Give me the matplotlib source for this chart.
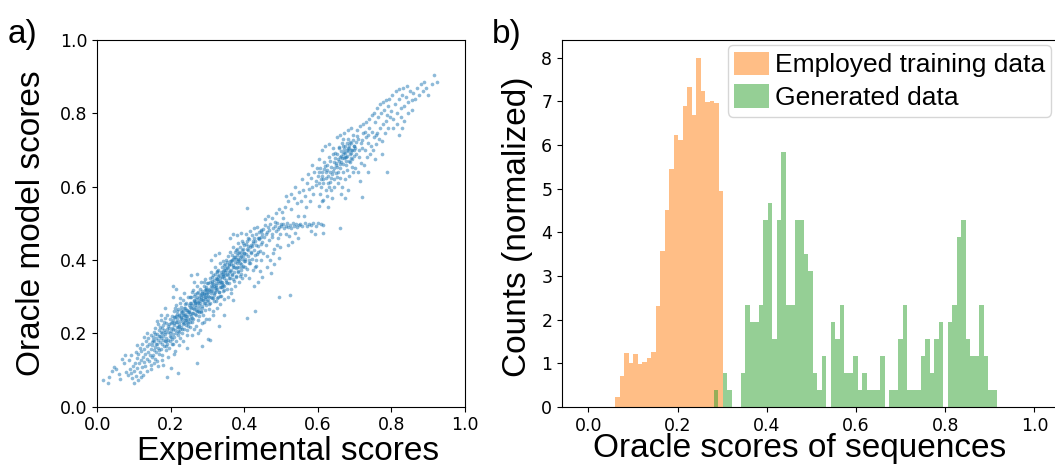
#!/usr/bin/env python3
"""Oracle model check (a) and score histograms of training vs generated sequences (b)."""

import matplotlib

matplotlib.use("Agg")
import matplotlib.pyplot as plt
import numpy as np

# a) experimental score vs oracle model score
scatter_points = [
    (0.015, 0.072), (0.028, 0.065), (0.033, 0.080), (0.041, 0.096), (0.045, 0.108), (0.052, 0.103),
    (0.058, 0.088), (0.063, 0.075), (0.067, 0.130), (0.072, 0.118), (0.075, 0.142), (0.079, 0.095),
    (0.083, 0.086), (0.086, 0.128), (0.088, 0.102), (0.091, 0.092), (0.093, 0.140), (0.095, 0.078),
    (0.098, 0.112), (0.099, 0.065),
    (0.101, 0.098), (0.103, 0.120), (0.104, 0.150), (0.106, 0.085), (0.108, 0.132), (0.109, 0.105),
    (0.111, 0.072), (0.112, 0.143), (0.113, 0.118), (0.115, 0.160), (0.116, 0.094), (0.118, 0.128),
    (0.119, 0.152), (0.121, 0.108), (0.122, 0.170), (0.124, 0.136), (0.125, 0.086), (0.127, 0.122),
    (0.128, 0.158), (0.129, 0.145), (0.131, 0.112), (0.132, 0.178), (0.134, 0.131), (0.135, 0.165),
    (0.136, 0.098), (0.138, 0.150), (0.139, 0.188), (0.141, 0.124), (0.142, 0.170), (0.143, 0.142),
    (0.145, 0.158), (0.146, 0.196), (0.147, 0.115), (0.148, 0.176), (0.149, 0.135), (0.128, 0.190),
    (0.118, 0.082), (0.134, 0.201), (0.108, 0.168), (0.145, 0.104),
    (0.150, 0.168), (0.151, 0.142), (0.152, 0.190), (0.153, 0.155), (0.154, 0.205), (0.155, 0.178),
    (0.156, 0.130), (0.157, 0.162), (0.158, 0.214), (0.159, 0.186), (0.160, 0.150), (0.161, 0.172),
    (0.162, 0.198), (0.163, 0.125), (0.164, 0.182), (0.165, 0.226), (0.166, 0.160), (0.167, 0.192),
    (0.168, 0.145), (0.169, 0.208), (0.170, 0.176), (0.171, 0.218), (0.172, 0.158), (0.173, 0.188),
    (0.174, 0.236), (0.175, 0.170), (0.176, 0.200), (0.177, 0.140), (0.178, 0.182), (0.179, 0.222),
    (0.180, 0.194), (0.181, 0.166), (0.182, 0.210), (0.183, 0.242), (0.184, 0.178), (0.185, 0.198),
    (0.186, 0.154), (0.187, 0.228), (0.188, 0.188), (0.189, 0.212), (0.190, 0.172), (0.191, 0.250),
    (0.192, 0.204), (0.193, 0.182), (0.194, 0.226), (0.195, 0.160), (0.196, 0.214), (0.197, 0.192),
    (0.198, 0.238), (0.199, 0.178), (0.155, 0.118), (0.165, 0.112), (0.176, 0.128), (0.185, 0.268),
    (0.193, 0.135), (0.172, 0.250), (0.162, 0.235), (0.180, 0.115), (0.189, 0.082), (0.207, 0.330),
    (0.200, 0.206), (0.201, 0.228), (0.202, 0.184), (0.203, 0.246), (0.204, 0.214), (0.205, 0.170),
    (0.206, 0.236), (0.207, 0.198), (0.208, 0.262), (0.209, 0.222), (0.210, 0.190), (0.211, 0.244),
    (0.212, 0.208), (0.213, 0.276), (0.214, 0.230), (0.215, 0.178), (0.216, 0.252), (0.217, 0.216),
    (0.218, 0.238), (0.219, 0.196), (0.220, 0.266), (0.221, 0.226), (0.222, 0.248), (0.223, 0.204),
    (0.224, 0.284), (0.225, 0.234), (0.226, 0.186), (0.227, 0.256), (0.228, 0.218), (0.229, 0.272),
    (0.230, 0.240), (0.231, 0.200), (0.232, 0.262), (0.233, 0.230), (0.234, 0.292), (0.235, 0.250),
    (0.236, 0.212), (0.237, 0.270), (0.238, 0.236), (0.239, 0.254), (0.240, 0.222), (0.241, 0.282),
    (0.242, 0.246), (0.243, 0.196), (0.244, 0.264), (0.245, 0.232), (0.246, 0.300), (0.247, 0.258),
    (0.248, 0.220), (0.249, 0.276), (0.205, 0.300), (0.215, 0.320), (0.222, 0.168), (0.232, 0.180),
    (0.212, 0.152), (0.244, 0.208), (0.237, 0.310), (0.226, 0.296), (0.218, 0.262), (0.209, 0.245),
    (0.241, 0.236), (0.228, 0.244), (0.234, 0.226), (0.204, 0.232), (0.247, 0.240), (0.219, 0.218),
    (0.213, 0.200), (0.231, 0.258), (0.224, 0.212), (0.239, 0.268), (0.200, 0.105), (0.220, 0.091),
    (0.210, 0.145), (0.245, 0.160),
    (0.250, 0.262), (0.251, 0.238), (0.252, 0.284), (0.253, 0.216), (0.254, 0.270), (0.255, 0.248),
    (0.256, 0.300), (0.257, 0.230), (0.258, 0.276), (0.259, 0.256), (0.260, 0.318), (0.261, 0.240),
    (0.262, 0.290), (0.263, 0.266), (0.264, 0.212), (0.265, 0.282), (0.266, 0.306), (0.267, 0.252),
    (0.268, 0.294), (0.269, 0.272), (0.270, 0.330), (0.271, 0.260), (0.272, 0.300), (0.273, 0.236),
    (0.274, 0.286), (0.275, 0.314), (0.276, 0.270), (0.277, 0.296), (0.278, 0.248), (0.279, 0.322),
    (0.280, 0.284), (0.281, 0.306), (0.282, 0.262), (0.283, 0.340), (0.284, 0.292), (0.285, 0.274),
    (0.286, 0.316), (0.287, 0.250), (0.288, 0.302), (0.289, 0.330), (0.290, 0.282), (0.291, 0.310),
    (0.292, 0.264), (0.293, 0.348), (0.294, 0.298), (0.295, 0.320), (0.296, 0.276), (0.297, 0.306),
    (0.298, 0.338), (0.299, 0.288), (0.258, 0.196), (0.268, 0.220), (0.275, 0.200), (0.285, 0.228),
    (0.262, 0.340), (0.255, 0.360), (0.270, 0.362), (0.295, 0.240), (0.290, 0.230), (0.280, 0.210),
    (0.252, 0.300), (0.266, 0.286), (0.274, 0.262), (0.283, 0.298), (0.292, 0.318), (0.261, 0.268),
    (0.278, 0.288), (0.287, 0.290), (0.296, 0.300), (0.253, 0.254), (0.270, 0.118), (0.285, 0.165),
    (0.300, 0.185), (0.306, 0.183),
    (0.300, 0.312), (0.301, 0.290), (0.302, 0.336), (0.303, 0.266), (0.304, 0.322), (0.305, 0.300),
    (0.306, 0.352), (0.307, 0.282), (0.308, 0.328), (0.309, 0.310), (0.310, 0.368), (0.311, 0.296),
    (0.312, 0.342), (0.313, 0.318), (0.314, 0.262), (0.315, 0.334), (0.316, 0.358), (0.317, 0.304),
    (0.318, 0.346), (0.319, 0.324), (0.320, 0.380), (0.321, 0.312), (0.322, 0.352), (0.323, 0.288),
    (0.324, 0.338), (0.325, 0.366), (0.326, 0.322), (0.327, 0.348), (0.328, 0.300), (0.329, 0.374),
    (0.330, 0.336), (0.331, 0.358), (0.332, 0.314), (0.333, 0.392), (0.334, 0.344), (0.335, 0.326),
    (0.336, 0.368), (0.337, 0.302), (0.338, 0.354), (0.339, 0.382), (0.340, 0.334), (0.341, 0.362),
    (0.342, 0.316), (0.343, 0.398), (0.344, 0.350), (0.345, 0.372), (0.346, 0.328), (0.347, 0.358),
    (0.348, 0.390), (0.349, 0.340), (0.305, 0.240), (0.315, 0.250), (0.325, 0.270), (0.335, 0.280),
    (0.345, 0.295), (0.310, 0.400), (0.320, 0.415), (0.330, 0.420), (0.318, 0.330), (0.328, 0.344),
    (0.338, 0.340), (0.308, 0.300), (0.342, 0.356), (0.322, 0.326), (0.333, 0.352), (0.313, 0.336),
    (0.347, 0.366), (0.303, 0.318), (0.326, 0.296), (0.337, 0.326), (0.330, 0.220), (0.345, 0.250),
    (0.350, 0.372), (0.351, 0.346), (0.352, 0.394), (0.353, 0.322), (0.354, 0.380), (0.355, 0.358),
    (0.356, 0.410), (0.357, 0.338), (0.358, 0.386), (0.359, 0.366), (0.360, 0.422), (0.361, 0.352),
    (0.362, 0.398), (0.363, 0.374), (0.364, 0.320), (0.365, 0.390), (0.366, 0.414), (0.367, 0.360),
    (0.368, 0.402), (0.369, 0.380), (0.370, 0.436), (0.371, 0.368), (0.372, 0.408), (0.373, 0.344),
    (0.374, 0.394), (0.375, 0.422), (0.376, 0.378), (0.377, 0.404), (0.378, 0.356), (0.379, 0.430),
    (0.380, 0.392), (0.381, 0.414), (0.382, 0.370), (0.383, 0.446), (0.384, 0.398), (0.385, 0.380),
    (0.386, 0.422), (0.387, 0.356), (0.388, 0.408), (0.389, 0.436), (0.390, 0.390), (0.391, 0.418),
    (0.392, 0.372), (0.393, 0.452), (0.394, 0.404), (0.395, 0.426), (0.396, 0.384), (0.397, 0.412),
    (0.398, 0.440), (0.399, 0.396), (0.355, 0.300), (0.365, 0.310), (0.375, 0.330), (0.385, 0.340),
    (0.395, 0.350), (0.360, 0.460), (0.370, 0.470), (0.380, 0.468), (0.390, 0.475), (0.370, 0.290),
    (0.400, 0.420), (0.402, 0.398), (0.404, 0.444), (0.406, 0.376), (0.408, 0.430), (0.410, 0.410),
    (0.412, 0.456), (0.414, 0.392), (0.416, 0.436), (0.418, 0.420), (0.420, 0.468), (0.422, 0.404),
    (0.424, 0.446), (0.426, 0.428), (0.428, 0.380), (0.430, 0.452), (0.432, 0.470), (0.434, 0.416),
    (0.436, 0.460), (0.438, 0.438), (0.440, 0.476), (0.442, 0.424), (0.444, 0.462), (0.446, 0.400),
    (0.448, 0.450), (0.403, 0.360), (0.413, 0.350), (0.423, 0.372), (0.433, 0.384), (0.443, 0.370),
    (0.405, 0.470), (0.415, 0.480), (0.425, 0.488), (0.435, 0.490), (0.445, 0.478), (0.409, 0.426),
    (0.419, 0.440), (0.429, 0.414), (0.439, 0.456), (0.449, 0.470), (0.438, 0.340), (0.425, 0.330),
    (0.447, 0.355), (0.406, 0.241), (0.430, 0.260), (0.408, 0.541),
    (0.450, 0.484), (0.453, 0.462), (0.456, 0.496), (0.459, 0.440), (0.462, 0.476), (0.465, 0.490),
    (0.468, 0.454), (0.471, 0.498), (0.474, 0.470), (0.477, 0.486), (0.480, 0.430), (0.483, 0.494),
    (0.486, 0.478), (0.489, 0.500), (0.492, 0.460), (0.495, 0.490), (0.498, 0.472), (0.452, 0.420),
    (0.461, 0.410), (0.470, 0.400), (0.479, 0.418), (0.488, 0.440), (0.497, 0.435), (0.455, 0.512),
    (0.465, 0.520), (0.475, 0.515), (0.485, 0.528), (0.495, 0.540), (0.458, 0.470), (0.467, 0.482),
    (0.476, 0.462), (0.484, 0.505), (0.491, 0.485), (0.499, 0.498), (0.462, 0.380), (0.481, 0.390),
    (0.495, 0.405), (0.472, 0.365), (0.494, 0.298), (0.524, 0.305),
    (0.500, 0.492), (0.504, 0.498), (0.508, 0.486), (0.512, 0.494), (0.516, 0.500), (0.520, 0.490),
    (0.524, 0.496), (0.528, 0.488), (0.532, 0.500), (0.536, 0.494), (0.540, 0.498), (0.544, 0.490),
    (0.548, 0.496), (0.502, 0.530), (0.510, 0.545), (0.518, 0.560), (0.526, 0.540), (0.534, 0.570),
    (0.542, 0.555), (0.550, 0.585), (0.506, 0.515), (0.514, 0.470), (0.522, 0.465), (0.530, 0.450),
    (0.538, 0.475), (0.546, 0.520), (0.528, 0.580), (0.538, 0.600), (0.512, 0.575), (0.520, 0.440),
    (0.545, 0.460),
    (0.552, 0.498), (0.558, 0.494), (0.564, 0.500), (0.570, 0.492), (0.576, 0.498), (0.582, 0.496),
    (0.588, 0.500), (0.594, 0.494), (0.600, 0.500), (0.608, 0.498), (0.615, 0.496), (0.555, 0.560),
    (0.560, 0.590), (0.565, 0.575), (0.570, 0.610), (0.575, 0.595), (0.580, 0.625), (0.585, 0.600),
    (0.590, 0.640), (0.595, 0.615), (0.558, 0.620), (0.568, 0.545), (0.578, 0.560), (0.588, 0.580),
    (0.598, 0.650), (0.572, 0.635), (0.585, 0.660), (0.562, 0.520), (0.592, 0.470), (0.580, 0.480),
    (0.596, 0.605),
    (0.600, 0.630), (0.603, 0.610), (0.606, 0.650), (0.609, 0.600), (0.612, 0.640), (0.615, 0.620),
    (0.618, 0.668), (0.621, 0.590), (0.624, 0.645), (0.627, 0.628), (0.630, 0.680), (0.633, 0.612),
    (0.636, 0.655), (0.639, 0.635), (0.642, 0.690), (0.645, 0.620), (0.648, 0.665), (0.602, 0.675),
    (0.610, 0.700), (0.620, 0.710), (0.630, 0.715), (0.640, 0.705), (0.605, 0.580), (0.615, 0.565),
    (0.625, 0.575), (0.635, 0.590), (0.645, 0.600), (0.608, 0.620), (0.617, 0.648), (0.626, 0.660),
    (0.634, 0.640), (0.643, 0.650), (0.649, 0.638), (0.611, 0.560), (0.628, 0.545), (0.638, 0.570),
    (0.604, 0.548), (0.622, 0.624), (0.631, 0.600), (0.646, 0.678), (0.614, 0.473), (0.660, 0.488),
    (0.650, 0.660), (0.652, 0.690), (0.654, 0.640), (0.656, 0.675), (0.658, 0.705), (0.660, 0.650),
    (0.662, 0.685), (0.664, 0.668), (0.666, 0.720), (0.668, 0.640), (0.670, 0.695), (0.672, 0.678),
    (0.674, 0.710), (0.676, 0.660), (0.678, 0.700), (0.680, 0.685), (0.682, 0.730), (0.684, 0.670),
    (0.686, 0.705), (0.688, 0.690), (0.690, 0.720), (0.692, 0.675), (0.694, 0.700), (0.696, 0.740),
    (0.698, 0.685), (0.655, 0.610), (0.665, 0.600), (0.675, 0.620), (0.685, 0.630), (0.695, 0.640),
    (0.651, 0.735), (0.661, 0.740), (0.671, 0.745), (0.681, 0.755), (0.691, 0.760), (0.657, 0.670),
    (0.667, 0.688), (0.677, 0.682), (0.687, 0.668), (0.697, 0.712), (0.663, 0.580), (0.683, 0.590),
    (0.673, 0.570), (0.693, 0.655), (0.659, 0.625), (0.679, 0.645), (0.689, 0.700), (0.669, 0.712),
    (0.700, 0.705), (0.704, 0.690), (0.708, 0.730), (0.712, 0.680), (0.716, 0.720), (0.720, 0.705),
    (0.724, 0.745), (0.728, 0.700), (0.732, 0.735), (0.736, 0.720), (0.740, 0.760), (0.744, 0.710),
    (0.748, 0.750), (0.752, 0.735), (0.756, 0.775), (0.760, 0.745), (0.764, 0.790), (0.768, 0.760),
    (0.772, 0.800), (0.776, 0.770), (0.780, 0.810), (0.784, 0.780), (0.788, 0.795), (0.792, 0.820),
    (0.796, 0.790), (0.702, 0.650), (0.710, 0.640), (0.718, 0.665), (0.726, 0.660), (0.734, 0.680),
    (0.742, 0.690), (0.750, 0.700), (0.758, 0.715), (0.766, 0.730), (0.774, 0.725), (0.782, 0.745),
    (0.790, 0.760), (0.706, 0.755), (0.714, 0.765), (0.722, 0.770), (0.730, 0.775), (0.738, 0.785),
    (0.746, 0.795), (0.754, 0.800), (0.762, 0.815), (0.770, 0.825), (0.778, 0.830), (0.786, 0.835),
    (0.794, 0.840), (0.715, 0.615), (0.735, 0.640), (0.755, 0.675), (0.775, 0.690), (0.757, 0.740),
    (0.719, 0.573), (0.787, 0.641),
    (0.800, 0.805), (0.805, 0.785), (0.810, 0.825), (0.815, 0.800), (0.820, 0.840), (0.825, 0.815),
    (0.830, 0.850), (0.835, 0.820), (0.840, 0.845), (0.845, 0.830), (0.850, 0.860), (0.855, 0.835),
    (0.860, 0.855), (0.865, 0.840), (0.870, 0.870), (0.875, 0.850), (0.880, 0.880), (0.885, 0.860),
    (0.890, 0.885), (0.895, 0.870), (0.900, 0.850), (0.910, 0.880), (0.915, 0.905), (0.925, 0.885),
    (0.805, 0.760), (0.815, 0.770), (0.825, 0.790), (0.835, 0.780), (0.845, 0.800), (0.855, 0.810),
    (0.802, 0.850), (0.812, 0.860), (0.822, 0.865), (0.832, 0.870), (0.842, 0.875), (0.820, 0.740),
    (0.830, 0.760),
]

# extra points read from the dense core of the cloud
scatter_core_points = [
    (0.163, 0.171), (0.197, 0.201), (0.151, 0.181), (0.188, 0.166), (0.176, 0.214), (0.209, 0.227),
    (0.184, 0.205), (0.171, 0.193), (0.223, 0.219), (0.214, 0.247), (0.236, 0.229), (0.201, 0.189),
    (0.242, 0.263), (0.227, 0.241), (0.219, 0.207), (0.253, 0.271), (0.233, 0.251), (0.247, 0.229),
    (0.261, 0.255), (0.238, 0.279), (0.272, 0.283), (0.257, 0.241), (0.266, 0.277), (0.281, 0.293),
    (0.249, 0.259), (0.276, 0.259), (0.289, 0.307), (0.263, 0.301), (0.294, 0.283), (0.271, 0.311),
    (0.302, 0.301), (0.286, 0.269), (0.311, 0.327), (0.297, 0.317), (0.279, 0.305), (0.317, 0.309),
    (0.306, 0.341), (0.323, 0.333), (0.293, 0.293), (0.328, 0.357), (0.314, 0.297), (0.336, 0.341),
    (0.321, 0.361), (0.342, 0.333), (0.331, 0.313), (0.347, 0.379), (0.338, 0.361), (0.353, 0.363),
    (0.326, 0.349), (0.359, 0.389), (0.344, 0.319), (0.362, 0.371), (0.351, 0.401), (0.368, 0.387),
    (0.357, 0.351), (0.374, 0.409), (0.363, 0.397), (0.381, 0.381), (0.369, 0.349), (0.386, 0.401),
    (0.377, 0.427), (0.392, 0.411), (0.383, 0.367), (0.397, 0.429), (0.388, 0.393), (0.404, 0.417),
    (0.394, 0.381), (0.411, 0.439), (0.401, 0.403), (0.417, 0.421), (0.407, 0.451), (0.421, 0.437),
    (0.413, 0.401), (0.427, 0.459), (0.433, 0.441), (0.441, 0.461), (0.437, 0.421), (0.446, 0.481),
    (0.431, 0.399), (0.444, 0.443), (0.157, 0.197), (0.168, 0.155), (0.181, 0.231), (0.192, 0.219),
    (0.203, 0.171), (0.217, 0.231), (0.228, 0.263), (0.211, 0.269), (0.231, 0.213), (0.244, 0.247),
    (0.252, 0.231), (0.264, 0.289), (0.277, 0.277), (0.258, 0.313), (0.283, 0.257), (0.291, 0.339),
    (0.269, 0.251), (0.303, 0.279), (0.312, 0.353), (0.296, 0.327), (0.318, 0.287), (0.327, 0.371),
    (0.334, 0.303), (0.346, 0.387), (0.339, 0.327), (0.354, 0.337), (0.366, 0.401), (0.371, 0.381),
    (0.376, 0.353), (0.384, 0.419), (0.391, 0.361), (0.396, 0.447), (0.402, 0.381), (0.409, 0.461),
    (0.416, 0.391), (0.423, 0.451), (0.186, 0.179), (0.174, 0.203), (0.207, 0.213), (0.221, 0.251),
    (0.239, 0.241), (0.256, 0.283), (0.268, 0.263), (0.284, 0.311), (0.299, 0.309), (0.309, 0.315),
    (0.324, 0.319), (0.341, 0.369), (0.356, 0.377), (0.367, 0.363), (0.382, 0.403), (0.398, 0.419),
    (0.603, 0.641), (0.611, 0.629), (0.619, 0.657), (0.627, 0.611), (0.633, 0.671), (0.641, 0.643),
    (0.647, 0.693), (0.653, 0.653), (0.659, 0.681), (0.663, 0.697), (0.667, 0.661), (0.671, 0.703),
    (0.675, 0.681), (0.679, 0.719), (0.683, 0.697), (0.687, 0.723), (0.691, 0.691), (0.695, 0.727),
    (0.699, 0.711), (0.703, 0.721), (0.657, 0.709), (0.665, 0.677), (0.673, 0.693), (0.681, 0.705),
    (0.689, 0.679), (0.697, 0.699), (0.661, 0.663), (0.669, 0.729), (0.677, 0.671), (0.685, 0.713),
    (0.613, 0.611), (0.623, 0.639), (0.637, 0.623), (0.644, 0.667), (0.651, 0.627), (0.707, 0.739),
    (0.713, 0.701), (0.721, 0.727), (0.729, 0.749), (0.737, 0.741),
]

# b) normalized histograms
train_label = "Employed training data"
train_range = (0.0598, 0.3022)
train_density = [
    0.24, 0.71, 1.25, 1.02, 1.22, 0.99, 1.04, 1.12, 1.27, 2.33, 3.60, 4.54,
    5.49, 6.28, 6.16, 6.94, 7.38, 6.74, 8.05, 7.29, 7.03, 7.06, 7.01, 4.99,
]
generated_label = "Generated data"
generated_range = (0.2814, 0.9160)
generated_counts = [
    1, 0, 2, 1, 0, 0, 2, 6, 5, 5, 6, 11, 12, 4, 11, 15, 6, 6, 11, 11, 9,
    8, 2, 1, 3, 0, 5, 4, 6, 2, 2, 3, 1, 2, 1, 1, 1, 3, 0, 1, 1, 4, 6,
    1, 1, 1, 3, 4, 2, 4, 5, 0, 5, 6, 10, 11, 4, 3, 3, 6, 3, 1, 1,
]

ticks_01 = [0.0, 0.2, 0.4, 0.6, 0.8, 1.0]
count_ticks = [0, 1, 2, 3, 4, 5, 6, 7, 8]

LABEL_FONT = "Liberation Sans"


def hist_from_bins(ax, value_range, values, **kwargs):
    edges = np.linspace(value_range[0], value_range[1], len(values) + 1)
    centers = 0.5 * (edges[:-1] + edges[1:])
    ax.hist(centers, bins=edges, weights=values, density=True, **kwargs)


def main() -> None:
    fig = plt.figure(figsize=(10.55, 4.65), dpi=100)
    ax_a = fig.add_axes([0.0922, 0.1254, 0.3485, 0.7886])
    ax_b = fig.add_axes([0.5327, 0.1247, 0.4690, 0.7892])

    # Scatter panel
    pts = np.asarray(scatter_points + scatter_core_points)
    ax_a.scatter(pts[:, 0], pts[:, 1], s=7, color="tab:blue", alpha=0.5, linewidths=0)
    ax_a.set_xlim(0, 1)
    ax_a.set_ylim(0, 1)
    ax_a.set_xticks(ticks_01)
    ax_a.set_yticks(ticks_01)
    ax_a.tick_params(labelsize=12.5)
    ax_a.set_xlabel("Experimental scores", fontsize=24, family=LABEL_FONT)
    ax_a.set_ylabel("Oracle model scores", fontsize=24, family=LABEL_FONT)
    ax_a.xaxis.set_label_coords(0.52, -0.08)
    ax_a.yaxis.set_label_coords(-0.137, 0.5)

    # Histogram panel
    hist_from_bins(ax_b, train_range, train_density, color="tab:orange", alpha=0.5, label=train_label)
    hist_from_bins(ax_b, generated_range, generated_counts, color="tab:green", alpha=0.5, label=generated_label)
    ax_b.set_xlim(-0.059, 1.05)
    ax_b.set_ylim(0, 8.4)
    ax_b.set_xticks(ticks_01)
    ax_b.set_yticks(count_ticks)
    ax_b.tick_params(labelsize=12.5)
    ax_b.set_xlabel("Oracle scores of sequences", fontsize=24, family=LABEL_FONT)
    ax_b.set_ylabel("Counts (normalized)", fontsize=24, family=LABEL_FONT)
    ax_b.xaxis.set_label_coords(0.48, -0.07)
    ax_b.yaxis.set_label_coords(-0.058, 0.49)
    ax_b.legend(
        loc="upper right",
        bbox_to_anchor=(0.9893, 0.9864),
        borderaxespad=0,
        prop={"family": LABEL_FONT, "size": 19},
        handlelength=1.3,
        handleheight=1.0,
        handletextpad=0.23,
        borderpad=0.25,
        labelspacing=0.25,
    )

    fig.text(8 / 1055, 1 - 43 / 465, "a)", fontsize=24, family=LABEL_FONT, va="baseline", ha="left")
    fig.text(492 / 1055, 1 - 43 / 465, "b)", fontsize=24, family=LABEL_FONT, va="baseline", ha="left")

    fig.savefig("out.png", dpi=100)
    plt.close(fig)


if __name__ == "__main__":
    main()
